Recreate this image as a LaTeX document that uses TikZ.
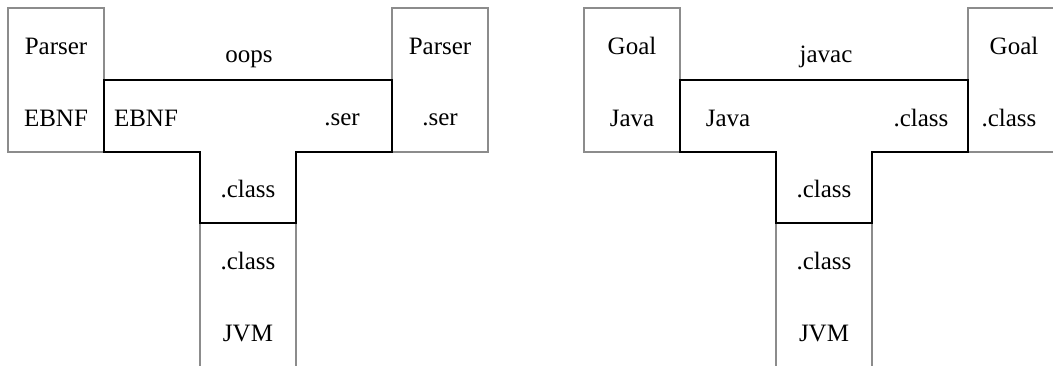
\documentclass[tikz,border=0pt]{standalone}
\usepackage{fontspec}
\setmainfont{Liberation Serif}
\definecolor{boxgray}{RGB}{140,140,140}
\tikzset{
  frame/.style={draw=boxgray, line width=1.6pt},
  tee/.style={draw=black, line width=2pt, line join=miter},
  lbl/.style={anchor=base, inner sep=0pt, font=\fontsize{25}{30}\selectfont},
}
\begin{document}
\begin{tikzpicture}[x=1pt, y=-1pt]
  \useasboundingbox (0,0) rectangle (1053,365);
  \clip (0,0) rectangle (1053,365);

  % ---------- oops: EBNF -> .ser, running on the JVM ----------
  \draw[frame] (8,8) rectangle (104,152);
  \draw[frame] (392,8) rectangle (488,152);
  \draw[frame] (200,223) rectangle (296,368);
  \draw[tee] (104,80) -- (392,80) -- (392,152) -- (296,152) -- (296,223)
             -- (200,223) -- (200,152) -- (104,152) -- cycle;

  \node[lbl] (pin)   at (56,54)   {Parser};
  \node[lbl] (ein)   at (56,126)  {EBNF};
  \node[lbl] (oops)  at (249,62)  {oops};
  \node[lbl] (esrc)  at (146,126) {EBNF};
  \node[lbl] (etgt)  at (342,125) {.ser};
  \node[lbl] (pout)  at (440,54)  {Parser};
  \node[lbl] (sout)  at (440,125) {.ser};
  \node[lbl] (oimpl) at (248,197) {.class};
  \node[lbl] (ocls)  at (248,269) {.class};
  \node[lbl] (ojvm)  at (248,341) {JVM};

  % ---------- javac: Java -> .class, running on the JVM ----------
  \draw[frame] (584,8) rectangle (680,152);
  \draw[frame] (968,8) rectangle (1064,152);
  \draw[frame] (776,223) rectangle (872,368);
  \draw[tee] (680,80) -- (968,80) -- (968,152) -- (872,152) -- (872,223)
             -- (776,223) -- (776,152) -- (680,152) -- cycle;

  \node[lbl] (gin)   at (632,54)  {Goal};
  \node[lbl] (jin)   at (632,126) {Java};
  \node[lbl] (javac) at (826,62)  {javac};
  \node[lbl] (jsrc)  at (728,126) {Java};
  \node[lbl] (jtgt)  at (921,126) {.class};
  \node[lbl] (gout)  at (1014,54) {Goal};
  \node[lbl] (cout)  at (1009,126){.class};
  \node[lbl] (jimpl) at (824,197) {.class};
  \node[lbl] (jcls)  at (824,269) {.class};
  \node[lbl] (jjvm)  at (824,341) {JVM};
\end{tikzpicture}
\end{document}
